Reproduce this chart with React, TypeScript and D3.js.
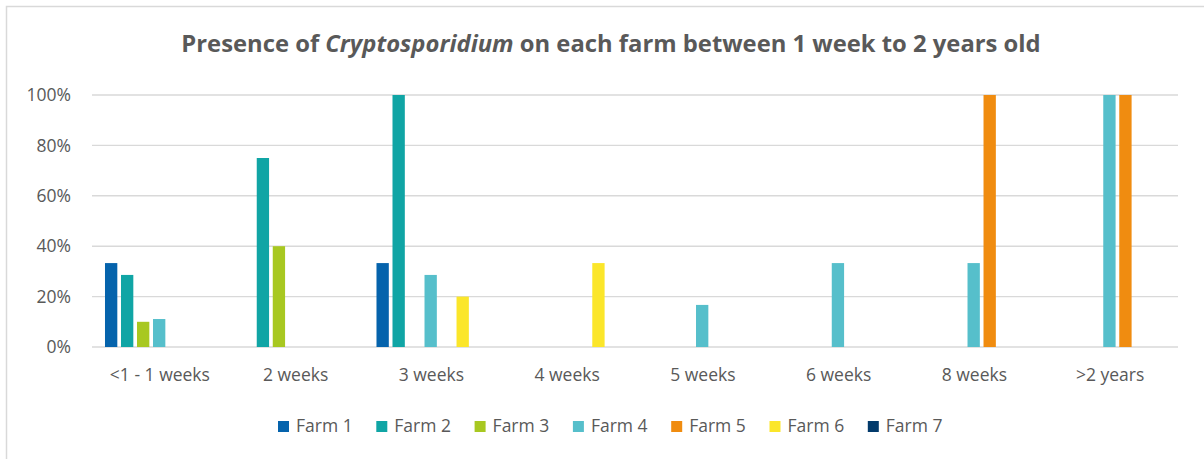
import React, { useEffect, useRef } from "react";
import * as d3 from "d3";

// categories (age groups) and series (farms)
const ageGroups = [
  "<1 - 1 weeks",
  "2 weeks",
  "3 weeks",
  "4 weeks",
  "5 weeks",
  "6 weeks",
  "8 weeks",
  ">2 years",
];
const farms = ["Farm 1", "Farm 2", "Farm 3", "Farm 4", "Farm 5", "Farm 6", "Farm 7"];

// presence per farm, one value per age group (0..1)
const farm1 = [0.333, 0, 0.333, 0, 0, 0, 0, 0];
const farm2 = [0.286, 0.75, 1, 0, 0, 0, 0, 0];
const farm3 = [0.1, 0.4, 0, 0, 0, 0, 0, 0];
const farm4 = [0.111, 0, 0.286, 0, 0.167, 0.333, 0.333, 1];
const farm5 = [0, 0, 0, 0, 0, 0, 1, 1];
const farm6 = [0, 0, 0.2, 0.333, 0, 0, 0, 0];
const farm7 = [0, 0, 0, 0, 0, 0, 0, 0];

const yTicks = [0, 0.2, 0.4, 0.6, 0.8, 1];
const farmColors = ["#0563AC", "#10A5A5", "#A8C821", "#56BFCB", "#F08C10", "#FBE62A", "#023A6B"];

const FONT = "'Open Sans', 'Noto Sans', sans-serif";
const TEXT = "#595959";

const App: React.FC = () => {
  const svgRef = useRef<SVGSVGElement>(null);
  const width = 1204;
  const height = 459;

  useEffect(() => {
    if (!svgRef.current) return;
    const svg = d3.select(svgRef.current);
    svg.selectAll("*").remove();

    const series = [farm1, farm2, farm3, farm4, farm5, farm6, farm7];

    // 차트 영역
    const margin = { top: 95, right: 26, bottom: 112, left: 92 };
    const plotW = width - margin.left - margin.right;
    const plotH = height - margin.top - margin.bottom;

    // outer frame (only left/top visible in the window)
    svg
      .append("rect")
      .attr("x", 6.5)
      .attr("y", 6.5)
      .attr("width", width + 20)
      .attr("height", height + 20)
      .attr("fill", "#fff")
      .attr("stroke", "#d9d9d9")
      .attr("stroke-width", 1.5);

    // title
    const title = svg
      .append("text")
      .attr("x", 611)
      .attr("y", 52)
      .attr("text-anchor", "middle")
      .style("font-family", FONT)
      .style("font-size", "23.8px")
      .style("font-weight", "bold")
      .style("fill", TEXT);
    title.append("tspan").text("Presence of ");
    title.append("tspan").style("font-style", "italic").text("Cryptosporidium");
    title.append("tspan").text(" on each farm between 1 week to 2 years old");

    const g = svg.append("g").attr("transform", `translate(${margin.left},${margin.top})`);

    const x0 = d3.scaleBand().domain(ageGroups).range([0, plotW]).padding(0);
    const x1 = d3
      .scaleBand()
      .domain(farms)
      .range([0, x0.bandwidth()])
      .paddingInner(0)
      .paddingOuter(0.74);
    const y = d3.scaleLinear().domain([0, 1]).range([plotH, 0]);

    // gridlines
    g.selectAll("line.grid")
      .data(yTicks)
      .join("line")
      .attr("class", "grid")
      .attr("x1", 0)
      .attr("x2", plotW)
      .attr("y1", (d) => y(d))
      .attr("y2", (d) => y(d))
      .attr("stroke", "#d9d9d9")
      .attr("stroke-width", 1.4);

    // y tick labels
    g.selectAll("text.ytick")
      .data(yTicks)
      .join("text")
      .attr("class", "ytick")
      .attr("x", -21)
      .attr("y", (d) => y(d))
      .attr("dy", "0.35em")
      .attr("text-anchor", "end")
      .style("font-family", FONT)
      .style("font-size", "17.5px")
      .style("fill", TEXT)
      .text((d) => d3.format(".0%")(d));

    // bars
    const barW = x1.step() * 0.77;
    series.forEach((vals, si) => {
      g.append("g")
        .selectAll("rect")
        .data(vals.map((v, i) => ({ v, cat: ageGroups[i] })).filter((d) => d.v > 0))
        .join("rect")
        .attr("x", (d) => (x0(d.cat) || 0) + (x1(farms[si]) || 0) + (x1.step() - barW) / 2 - 0.7)
        .attr("y", (d) => y(d.v))
        .attr("width", barW)
        .attr("height", (d) => y(0) - y(d.v))
        .attr("fill", farmColors[si]);
    });

    // x labels
    g.selectAll("text.xlab")
      .data(ageGroups)
      .join("text")
      .attr("class", "xlab")
      .attr("x", (d) => (x0(d) || 0) + x0.bandwidth() / 2)
      .attr("y", plotH + 34)
      .attr("text-anchor", "middle")
      .style("font-family", FONT)
      .style("font-size", "17.5px")
      .style("fill", TEXT)
      .text((d) => d);

    // legend
    const legend = svg.append("g").attr("transform", "translate(278, 421)");
    farms.forEach((f, i) => {
      const item = legend.append("g").attr("transform", `translate(${i * 98.3}, 0)`);
      item.append("rect").attr("width", 11).attr("height", 11).attr("fill", farmColors[i]);
      item
        .append("text")
        .attr("x", 18)
        .attr("y", 11)
        .style("font-family", FONT)
        .style("font-size", "17.5px")
        .style("fill", TEXT)
        .text(f);
    });
  }, []);

  return (
    <div style={{ position: "absolute", left: 0, top: 0, width, height, overflow: "hidden", background: "#fff" }}>
      <svg ref={svgRef} width={width} height={height} style={{ display: "block" }} />
    </div>
  );
};

export default App;
